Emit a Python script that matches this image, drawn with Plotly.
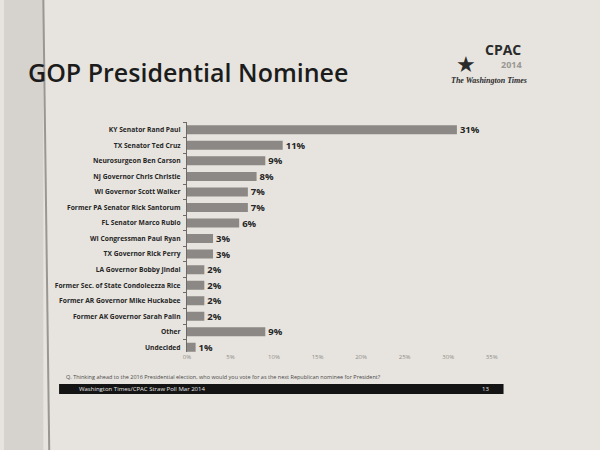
import plotly.graph_objects as go

# ── Data ──────────────────────────────────────────────────────────────────────
candidates = [
    "KY Senator Rand Paul",
    "TX Senator Ted Cruz",
    "Neurosurgeon Ben Carson",
    "NJ Governor Chris Christie",
    "WI Governor Scott Walker",
    "Former PA Senator Rick Santorum",
    "FL Senator Marco Rubio",
    "WI Congressman Paul Ryan",
    "TX Governor Rick Perry",
    "LA Governor Bobby Jindal",
    "Former Sec. of State Condoleezza Rice",
    "Former AR Governor Mike Huckabee",
    "Former AK Governor Sarah Palin",
    "Other",
    "Undecided",
]
shares = [31, 11, 9, 8, 7, 7, 6, 3, 3, 2, 2, 2, 2, 9, 1]
x_ticks = [0, 5, 10, 15, 20, 25, 30, 35]
x_tick_labels = ["0%", "5%", "10%", "15%", "20%", "25%", "30%", "35%"]

# ── Theme ─────────────────────────────────────────────────────────────────────
_PAPER = "#e7e4df"
_EDGE  = "#d6d3ce"
_BAR   = "#8b8885"
_TEXT  = "#262626"
_FAINT = "#8f8c88"
_FONT  = "Open Sans"

W, H = 600, 450


def px(x, y):
    return x / W, 1 - y / H


fig = go.Figure(go.Bar(
    x=shares,
    y=candidates,
    orientation="h",
    marker=dict(color=_BAR, line=dict(width=0)),
    text=[f"{v}%" for v in shares],
    textposition="outside",
    constraintext="none",
    textfont=dict(family=_FONT, size=9.5, color=_TEXT, weight="bold"),
    cliponaxis=False,
))

fig.update_layout(
    width=W, height=H,
    paper_bgcolor=_PAPER,
    plot_bgcolor="rgba(0,0,0,0)",
    margin=dict(l=0, r=0, t=0, b=0),
    showlegend=False,
    bargap=0.42,
    font=dict(family=_FONT, color=_TEXT),
    xaxis=dict(
        domain=[186 / W, 496 / W],
        range=[0, 35],
        tickvals=x_ticks,
        ticktext=x_tick_labels,
        tickfont=dict(size=6, color=_FAINT),
        showgrid=False, zeroline=False, showline=False,
        ticks="",
    ),
    yaxis=dict(
        domain=[1 - 352 / H, 1 - 122 / H],
        range=[14.3, -0.5],
        tickfont=dict(size=6.7, color=_TEXT, weight="bold"),
        showgrid=False, zeroline=False,
        showline=True, linecolor="#6d6a67", linewidth=1,
        ticks="outside", ticklen=3, tickcolor="#6d6a67",
        tickson="boundaries",
        ticklabelstandoff=4,
    ),
)

# left edge of the sheet
fig.add_shape(type="rect", xref="paper", yref="paper",
              x0=0, x1=40 / W, y0=0, y1=1,
              fillcolor=_EDGE, line=dict(width=0), layer="below")
fig.add_shape(type="line", xref="paper", yref="paper",
              x0=40 / W, x1=46 / W, y0=1, y1=0, layer="below",
              line=dict(color="#9a9792", width=2))

# footer band
fig.add_shape(type="rect", xref="paper", yref="paper",
              x0=56 / W, x1=508 / W, y0=1 - 394 / H, y1=1 - 384 / H,
              fillcolor="#141414", line=dict(width=0))

annotations = [
    dict(text="GOP Presidential Nominee", pos=(22, 72), size=25,
         color="#1c1c1c", weight=600, anchor="left"),
    dict(text="CPAC", pos=(487, 49), size=14, color="#2b2b2b",
         weight="bold", anchor="left"),
    dict(text="2014", pos=(503, 64), size=9, color="#9a9792",
         weight="bold", anchor="left"),
    dict(text="The Washington Times", pos=(493, 81), size=8,
         color="#2b2b2b", weight="bold", anchor="center",
         family="Liberation Serif", style="italic"),
    dict(text="Q. Thinking ahead to the 2016 Presidential election, who would "
              "you vote for as the next Republican nominee for President?",
         pos=(61, 377), size=5.5, color="#4a4a4a", weight="normal",
         anchor="left"),
    dict(text="Washington Times/CPAC Straw Poll Mar 2014", pos=(74, 389),
         size=6, color="#e8e8e8", weight="normal", anchor="left"),
    dict(text="13", pos=(490, 389), size=6, color="#e8e8e8",
         weight="normal", anchor="center"),
]
for a in annotations:
    ax, ay = px(*a["pos"])
    fig.add_annotation(
        text=a["text"], x=ax, y=ay, xref="paper", yref="paper",
        xanchor=a["anchor"], yanchor="middle", showarrow=False,
        font=dict(family=a.get("family", _FONT), size=a["size"],
                  color=a["color"], weight=a["weight"],
                  style=a.get("style", "normal")),
    )

# star of the CPAC logo
sx, sy = px(482, 50)
fig.add_annotation(text="★", x=sx, y=sy, xref="paper", yref="paper",
                   showarrow=False, font=dict(family="DejaVu Sans", size=22,
                                              color="#2b2b2b"))

# drop the default page margin so the 600x450 figure fills the window
fig.write_html("out.html", config={"displayModeBar": False},
               post_script="document.body.style.margin='0';")
